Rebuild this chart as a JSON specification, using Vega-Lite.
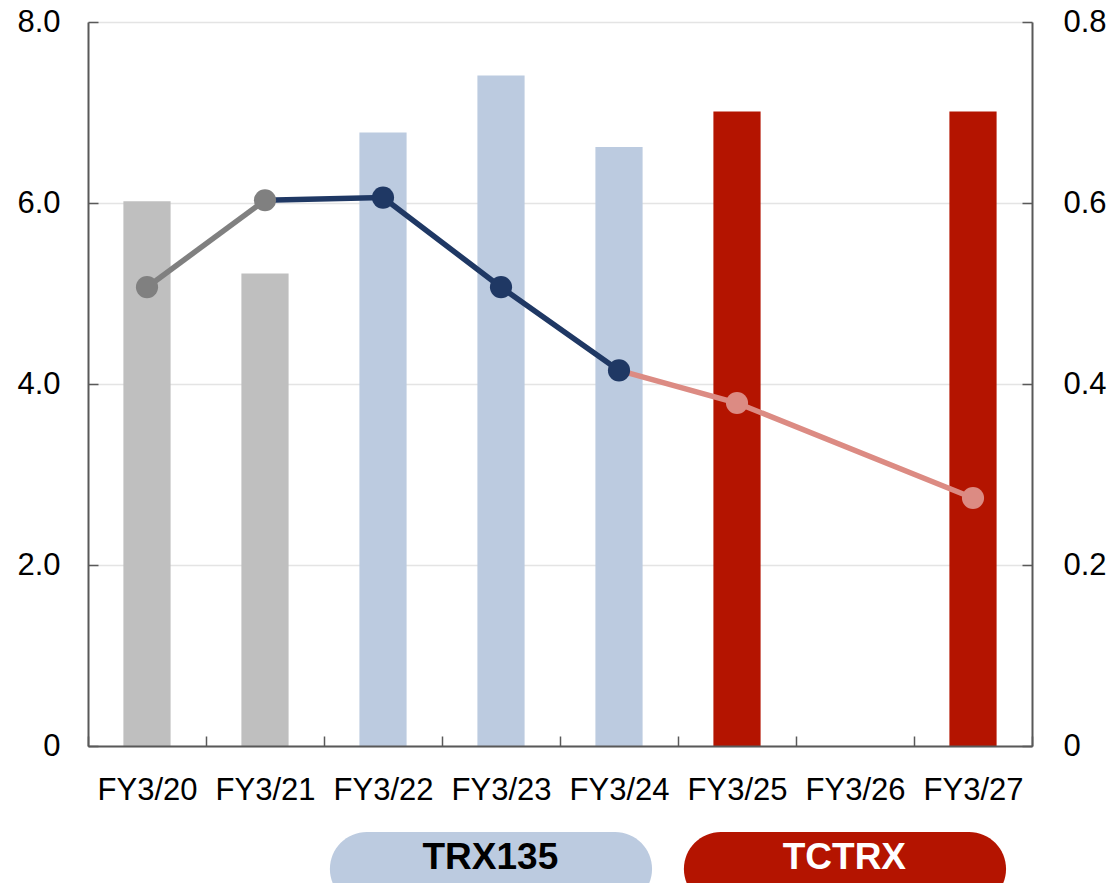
{
  "$schema": "https://vega.github.io/schema/vega-lite/v6.json",
  "background": "white",
  "padding": {"left": 0, "top": 6, "right": 0, "bottom": 0},
  "bounds": "flush",
  "spacing": 86,
  "config": {"view": {"stroke": null}, "font": "Liberation Sans"},
  "datasets": {
    "sales": [
      {"fy": "FY3/20", "group": "past", "value": 6.02},
      {"fy": "FY3/21", "group": "past", "value": 5.22},
      {"fy": "FY3/22", "group": "TRX135", "value": 6.78},
      {"fy": "FY3/23", "group": "TRX135", "value": 7.41},
      {"fy": "FY3/24", "group": "TRX135", "value": 6.62},
      {"fy": "FY3/25", "group": "TCTRX", "value": 7.01},
      {"fy": "FY3/27", "group": "TCTRX", "value": 7.01}
    ],
    "ratio": [
      {"fy": "FY3/20", "phase": "past", "ratio": 0.507},
      {"fy": "FY3/21", "phase": "past", "ratio": 0.603},
      {"fy": "FY3/22", "phase": "TRX135", "ratio": 0.606},
      {"fy": "FY3/23", "phase": "TRX135", "ratio": 0.507},
      {"fy": "FY3/24", "phase": "TRX135", "ratio": 0.415},
      {"fy": "FY3/25", "phase": "TCTRX", "ratio": 0.379},
      {"fy": "FY3/27", "phase": "TCTRX", "ratio": 0.274}
    ],
    "ratio_segments": [
      {"fy": "FY3/20", "phase": "past", "ratio": 0.507},
      {"fy": "FY3/21", "phase": "past", "ratio": 0.603},
      {"fy": "FY3/21", "phase": "TRX135", "ratio": 0.603},
      {"fy": "FY3/22", "phase": "TRX135", "ratio": 0.606},
      {"fy": "FY3/23", "phase": "TRX135", "ratio": 0.507},
      {"fy": "FY3/24", "phase": "TRX135", "ratio": 0.415},
      {"fy": "FY3/24", "phase": "TCTRX", "ratio": 0.415},
      {"fy": "FY3/25", "phase": "TCTRX", "ratio": 0.379},
      {"fy": "FY3/27", "phase": "TCTRX", "ratio": 0.274}
    ],
    "products": [
      {"name": "TRX135", "first": "FY3/22", "middle": "FY3/23", "last": "FY3/24"},
      {"name": "TCTRX", "first": "FY3/25", "middle": "FY3/26", "last": "FY3/27"}
    ]
  },
  "vconcat": [
    {
      "width": 944,
      "height": 724,
      "layer": [
        {
          "data": {"name": "sales"},
          "mark": {"type": "bar", "width": {"band": 0.4}},
          "encoding": {
            "x": {
              "field": "fy",
              "type": "ordinal",
              "scale": {
                "domain": ["FY3/20", "FY3/21", "FY3/22", "FY3/23", "FY3/24", "FY3/25", "FY3/26", "FY3/27"],
                "paddingInner": 0,
                "paddingOuter": 0
              },
              "axis": {
                "title": null,
                "labelAngle": 0,
                "labelFontSize": 31,
                "labelColor": "#000000",
                "labelPadding": 39,
                "tickBand": "extent",
                "tickSize": -10,
                "tickColor": "#595959",
                "tickWidth": 1.5,
                "domainColor": "#595959",
                "domainWidth": 2,
                "grid": false,
                "zindex": 1
              }
            },
            "y": {
              "field": "value",
              "type": "quantitative",
              "scale": {"domain": [0, 8]},
              "axis": {
                "title": null,
                "values": [0, 2, 4, 6, 8],
                "labelExpr": "datum.value == 0 ? '0' : format(datum.value, '.1f')",
                "labelFontSize": 31,
                "labelColor": "#000000",
                "labelPadding": 38,
                "tickSize": -10,
                "tickColor": "#595959",
                "tickWidth": 1.5,
                "domainColor": "#595959",
                "domainWidth": 2,
                "grid": true,
                "gridColor": "#e4e4e4",
                "gridWidth": 1.5,
                "minExtent": 88,
                "maxExtent": 88
              }
            },
            "color": {
              "field": "group",
              "type": "nominal",
              "scale": {"domain": ["past", "TRX135", "TCTRX"], "range": ["#bfbfbf", "#bccbe0", "#b41400"]},
              "legend": null
            }
          }
        },
        {
          "layer": [
            {
              "data": {"name": "ratio_segments"},
              "mark": {"type": "line", "strokeWidth": 5.5},
              "encoding": {
                "x": {"field": "fy", "type": "ordinal"},
                "y": {
                  "field": "ratio",
                  "type": "quantitative",
                  "scale": {"domain": [0, 0.8]},
                  "axis": {
                    "orient": "right",
                    "title": null,
                    "values": [0, 0.2, 0.4, 0.6, 0.8],
                    "labelExpr": "datum.value == 0 ? '0' : format(datum.value, '.1f')",
                    "labelFontSize": 31,
                    "labelColor": "#000000",
                    "labelPadding": 41,
                    "tickSize": -10,
                    "tickColor": "#595959",
                    "tickWidth": 1.5,
                    "domainColor": "#595959",
                    "domainWidth": 2,
                    "grid": false
                  }
                },
                "color": {
                  "field": "phase",
                  "type": "nominal",
                  "scale": {"domain": ["past", "TRX135", "TCTRX"], "range": ["#808080", "#1f3864", "#dc8b83"]},
                  "legend": null
                }
              }
            },
            {
              "data": {"name": "ratio"},
              "mark": {"type": "circle", "size": 490, "opacity": 1},
              "encoding": {
                "x": {"field": "fy", "type": "ordinal"},
                "y": {"field": "ratio", "type": "quantitative"},
                "color": {"field": "phase", "type": "nominal", "legend": null}
              }
            }
          ]
        }
      ],
      "resolve": {"scale": {"y": "independent", "color": "independent"}}
    },
    {
      "width": 944,
      "height": 51,
      "data": {"name": "products"},
      "layer": [
        {
          "mark": {"type": "bar", "cornerRadius": 37, "clip": true},
          "encoding": {
            "x": {
              "field": "first",
              "type": "ordinal",
              "bandPosition": 0.05,
              "scale": {
                "domain": ["FY3/20", "FY3/21", "FY3/22", "FY3/23", "FY3/24", "FY3/25", "FY3/26", "FY3/27"],
                "paddingInner": 0,
                "paddingOuter": 0
              },
              "axis": null
            },
            "x2": {"field": "last", "bandPosition": 0.78},
            "y": {"datum": 1, "type": "quantitative", "scale": {"domain": [0, 1]}, "axis": null},
            "y2": {"datum": -0.45},
            "color": {
              "field": "name",
              "type": "nominal",
              "scale": {"domain": ["TRX135", "TCTRX"], "range": ["#bccbe0", "#b41400"]},
              "legend": null
            }
          }
        },
        {
          "mark": {"type": "text", "fontSize": 37, "fontWeight": "bold", "baseline": "middle", "align": "center"},
          "encoding": {
            "x": {"field": "middle", "type": "ordinal", "bandPosition": 0.41},
            "y": {"datum": 0.5, "type": "quantitative"},
            "text": {"field": "name"},
            "color": {
              "field": "name",
              "type": "nominal",
              "scale": {"domain": ["TRX135", "TCTRX"], "range": ["#000000", "#ffffff"]},
              "legend": null
            }
          }
        }
      ],
      "resolve": {"scale": {"color": "independent"}}
    }
  ]
}
